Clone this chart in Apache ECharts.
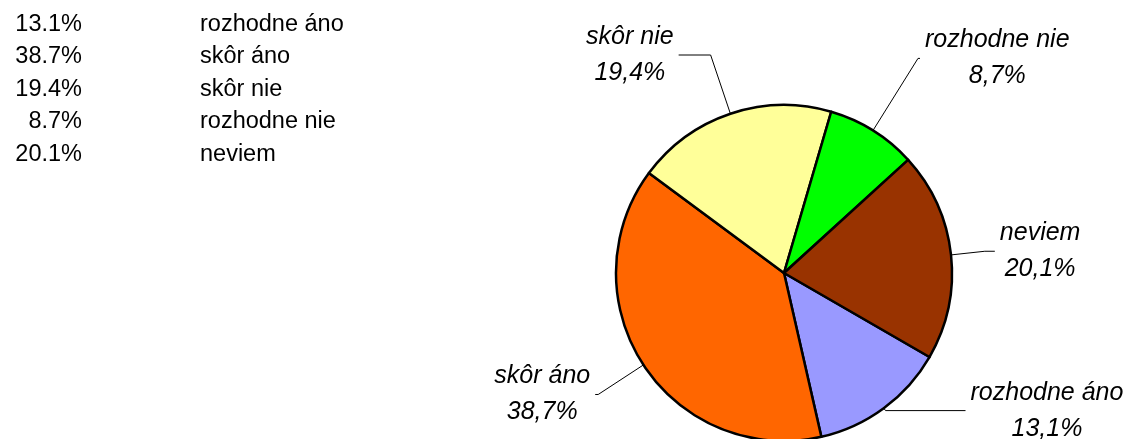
<!DOCTYPE html>
<html>
<head>
<meta charset="utf-8">
<script src="https://cdn.jsdelivr.net/npm/echarts@6/dist/echarts.min.js"></script>
<style>
html, body { margin: 0; padding: 0; background: #fff; }
#chart { width: 1131px; height: 439px; }
</style>
</head>
<body>
<div id="chart"></div>
<script>
// kategórie a podiely (%)
const categories = ['rozhodne áno', 'skôr áno', 'skôr nie', 'rozhodne nie', 'neviem'];
const shares = [13.1, 38.7, 19.4, 8.7, 20.1];
const sliceColors = ['#9999ff', '#ff6600', '#ffff99', '#00ff00', '#993300'];
// dĺžky vodiacich čiar popisov
const leaderLen = [3, 54, 62, 85, 34];
const leaderLen2 = [80, 3, 32, 2, 10];

const chart = echarts.init(document.getElementById('chart'));

// tabuľka vľavo hore
const table = [];
categories.forEach((name, i) => {
    const y = 24.5 + i * 32.4;
    table.push({
        type: 'text', x: 82, y: y, silent: true,
        style: { text: shares[i].toFixed(1) + '%', align: 'right', verticalAlign: 'middle',
                 fontSize: 23.5, fontFamily: 'Liberation Sans', fill: '#000' }
    });
    table.push({
        type: 'text', x: 200, y: y, silent: true,
        style: { text: name, align: 'left', verticalAlign: 'middle',
                 fontSize: 23.5, fontFamily: 'Liberation Sans', fill: '#000' }
    });
});

const option = {
    animation: false,
    backgroundColor: '#fff',
    graphic: table,
    series: [
        {
            type: 'pie',
            center: [784, 273],
            radius: 168,
            startAngle: -30,
            clockwise: true,
            avoidLabelOverlap: false,
            silent: true,
            itemStyle: { borderColor: '#000', borderWidth: 2.5 },
            label: {
                show: true,
                position: 'outside',
                fontFamily: 'Liberation Sans',
                fontStyle: 'italic',
                fontSize: 25,
                lineHeight: 36,
                color: '#000',
                distanceToLabelLine: 5,
                formatter: p => p.name + '\n' + p.value.toFixed(1).replace('.', ',') + '%'
            },
            labelLine: { show: true, lineStyle: { color: '#000', width: 1 } },
            // riadky popisu centrované, čiara ostáva
            labelLayout: params => {
                const r = params.labelRect;
                return {
                    x: r.x + r.width / 2,
                    y: r.y + r.height / 2,
                    align: 'center',
                    verticalAlign: 'middle',
                    labelLinePoints: params.labelLinePoints
                };
            },
            data: categories.map((name, i) => ({
                name: name,
                value: shares[i],
                itemStyle: { color: sliceColors[i] },
                labelLine: { length: leaderLen[i], length2: leaderLen2[i] }
            }))
        }
    ]
};

chart.setOption(option);
</script>
</body>
</html>
